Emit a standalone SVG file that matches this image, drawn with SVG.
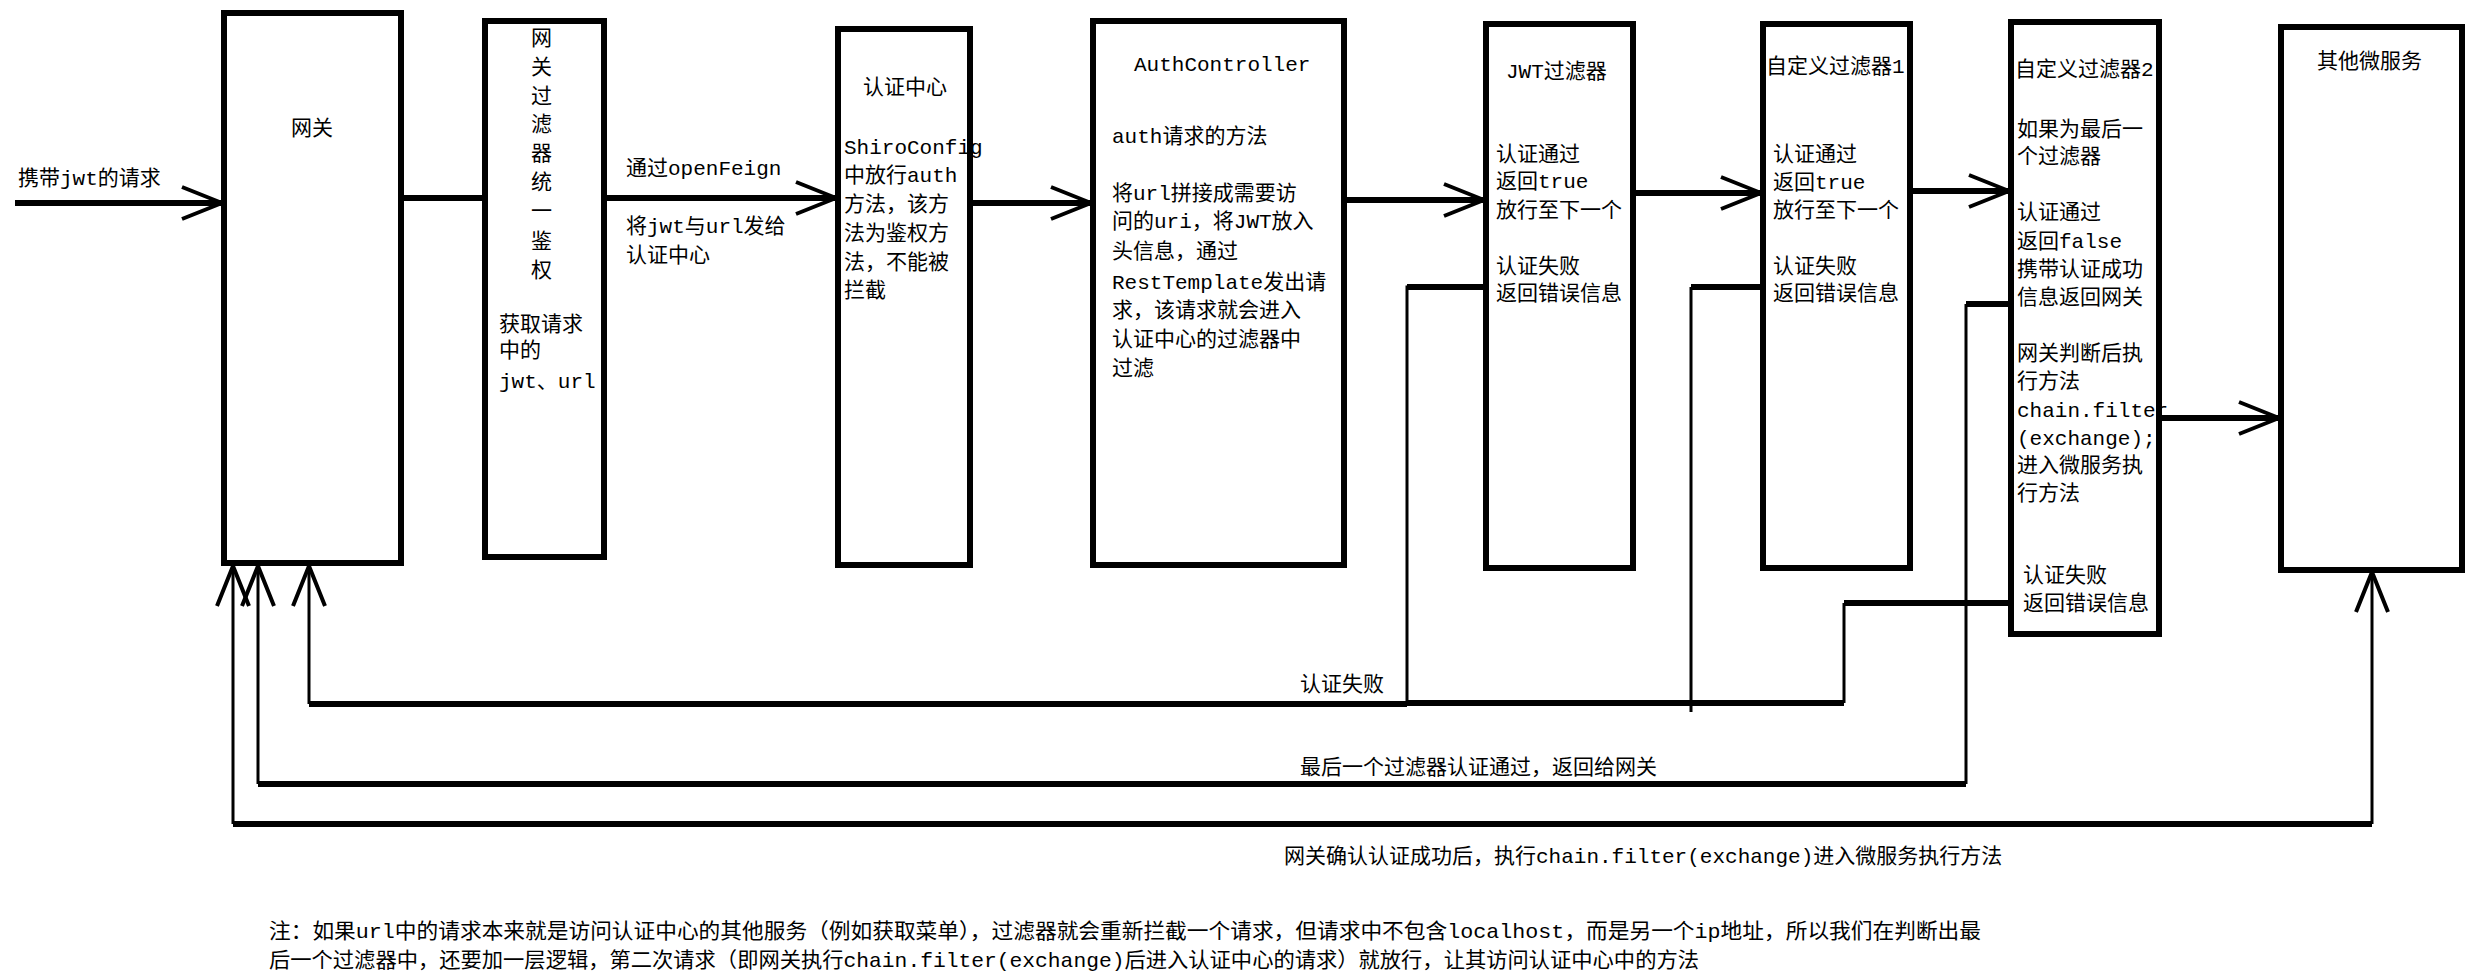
<svg xmlns="http://www.w3.org/2000/svg" width="2486" height="974" viewBox="0 0 2486 974">
<style>
.box{fill:#fff;stroke:#000;stroke-width:6}
text{font-family:"Liberation Mono","Noto Sans CJK SC",monospace;font-size:21px;fill:#000}
.c line,.c polyline{stroke:#000;fill:none}
.t{stroke-width:6}
.n{stroke-width:3}
</style>
<defs>
<marker id="a" markerUnits="userSpaceOnUse" markerWidth="44" markerHeight="44" viewBox="0 0 44 44" refX="42" refY="22" orient="auto">
<path d="M2,6 L42,22 L2,38" fill="none" stroke="#000" stroke-width="4"/>
</marker>
</defs>
<rect width="2486" height="974" fill="#fff"/>
<g id="gateway"><rect class="box" x="224" y="13" width="177" height="550"/><text x="291" y="135">网关</text></g>
<g id="gwfilter"><rect class="box" x="485" y="21" width="119" height="536"/>
<text x="531" y="45">网</text><text x="531" y="74">关</text><text x="531" y="103">过</text><text x="531" y="131">滤</text><text x="531" y="160">器</text><text x="531" y="189">统</text><text x="531" y="218">一</text><text x="531" y="248">鉴</text><text x="531" y="277">权</text>
<text x="499" y="331">获取请求</text><text x="499" y="357">中的</text><text x="499" y="388">jwt、url</text></g>
<g id="authcenter"><rect class="box" x="838" y="29" width="132" height="536"/>
<text x="863" y="94">认证中心</text>
<text x="844" y="154">ShiroConfig</text><text x="844" y="182">中放行auth</text><text x="844" y="211">方法，该方</text><text x="844" y="240">法为鉴权方</text><text x="844" y="269">法，不能被</text><text x="844" y="297">拦截</text></g>
<g id="authcontroller"><rect class="box" x="1093" y="21" width="251" height="544"/>
<text x="1134" y="71">AuthController</text>
<text x="1112" y="143">auth请求的方法</text>
<text x="1112" y="200">将url拼接成需要访</text><text x="1112" y="228">问的uri，将JWT放入</text><text x="1112" y="258">头信息，通过</text><text x="1112" y="289">RestTemplate发出请</text><text x="1112" y="317">求，该请求就会进入</text><text x="1112" y="346">认证中心的过滤器中</text><text x="1112" y="375">过滤</text></g>
<g id="jwtfilter"><rect class="box" x="1486" y="24" width="147" height="544"/>
<text x="1506" y="78">JWT过滤器</text>
<text x="1496" y="161">认证通过</text><text x="1496" y="188">返回true</text><text x="1496" y="217">放行至下一个</text><text x="1496" y="273">认证失败</text><text x="1496" y="300">返回错误信息</text></g>
<g id="filter1"><rect class="box" x="1763" y="24" width="147" height="544"/>
<text x="1766" y="73">自定义过滤器1</text>
<text x="1773" y="161">认证通过</text><text x="1773" y="189">返回true</text><text x="1773" y="217">放行至下一个</text><text x="1773" y="273">认证失败</text><text x="1773" y="300">返回错误信息</text></g>
<g id="filter2"><rect class="box" x="2011" y="22" width="148" height="612"/>
<text x="2015" y="76">自定义过滤器2</text>
<text x="2017" y="136">如果为最后一</text><text x="2017" y="163">个过滤器</text>
<text x="2017" y="219">认证通过</text><text x="2017" y="248">返回false</text><text x="2017" y="276">携带认证成功</text><text x="2017" y="304">信息返回网关</text>
<text x="2017" y="360">网关判断后执</text><text x="2017" y="388">行方法</text><text x="2017" y="417">chain.filter</text><text x="2017" y="445">(exchange);</text><text x="2017" y="472">进入微服务执</text><text x="2017" y="500">行方法</text>
<text x="2023" y="582">认证失败</text><text x="2023" y="610">返回错误信息</text></g>
<g id="services"><rect class="box" x="2281" y="27" width="181" height="543"/><text x="2317" y="68">其他微服务</text></g>
<g id="labels">
<text x="18" y="185">携带jwt的请求</text>
<text x="626" y="175">通过openFeign</text>
<text x="626" y="233">将jwt与url发给</text><text x="626" y="262">认证中心</text>
<text x="1300" y="691">认证失败</text>
<text x="1300" y="774">最后一个过滤器认证通过，返回给网关</text>
<text x="1284" y="863">网关确认认证成功后，执行chain.filter(exchange)进入微服务执行方法</text>
<text x="269" y="938" font-size="19" textLength="1712" lengthAdjust="spacingAndGlyphs">注：如果url中的请求本来就是访问认证中心的其他服务（例如获取菜单），过滤器就会重新拦截一个请求，但请求中不包含localhost，而是另一个ip地址，所以我们在判断出最</text>
<text x="269" y="967" font-size="19" textLength="1430" lengthAdjust="spacingAndGlyphs">后一个过滤器中，还要加一层逻辑，第二次请求（即网关执行chain.filter(exchange)后进入认证中心的请求）就放行，让其访问认证中心中的方法</text>
</g>
<g id="connectors" class="c">
<line class="t" x1="15" y1="203" x2="222" y2="203" marker-end="url(#a)"/>
<line class="t" x1="401" y1="198" x2="485" y2="198"/>
<line class="t" x1="604" y1="198" x2="836" y2="198" marker-end="url(#a)"/>
<line class="t" x1="970" y1="203" x2="1091" y2="203" marker-end="url(#a)"/>
<line class="t" x1="1344" y1="200" x2="1484" y2="200" marker-end="url(#a)"/>
<line class="t" x1="1633" y1="193" x2="1761" y2="193" marker-end="url(#a)"/>
<line class="t" x1="1910" y1="191" x2="2009" y2="191" marker-end="url(#a)"/>
<line class="t" x1="2159" y1="418" x2="2279" y2="418" marker-end="url(#a)"/>
<polyline class="n" points="1486,287 1407,287 1407,704"/>
<line class="t" x1="1407" y1="287" x2="1486" y2="287"/>
<line class="t" x1="1407" y1="704" x2="309" y2="704"/>
<line class="n" x1="309" y1="704" x2="309" y2="566" marker-end="url(#a)"/>
<line class="t" x1="1691" y1="287" x2="1763" y2="287"/>
<line class="n" x1="1691" y1="287" x2="1691" y2="712"/>
<line class="t" x1="1407" y1="703" x2="1844" y2="703"/>
<line class="t" x1="1844" y1="603" x2="2011" y2="603"/>
<line class="n" x1="1844" y1="603" x2="1844" y2="703"/>
<line class="t" x1="1966" y1="304" x2="2011" y2="304"/>
<line class="n" x1="1966" y1="304" x2="1966" y2="784"/>
<line class="t" x1="1966" y1="784" x2="258" y2="784"/>
<line class="n" x1="258" y1="784" x2="258" y2="566" marker-end="url(#a)"/>
<line class="n" x1="2372" y1="824" x2="2372" y2="572" marker-end="url(#a)"/>
<line class="t" x1="2372" y1="824" x2="233" y2="824"/>
<line class="n" x1="233" y1="824" x2="233" y2="566" marker-end="url(#a)"/>
</g>
</svg>
